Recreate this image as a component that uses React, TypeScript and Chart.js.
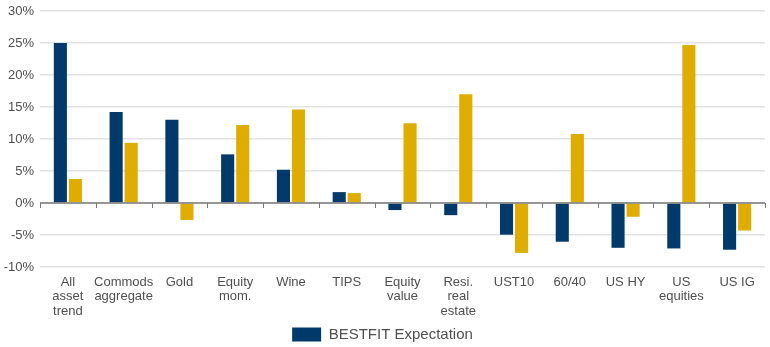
import React, { useEffect, useRef } from "react";
import { Chart, registerables } from "chart.js";

Chart.register(...registerables);

const categories: string[][] = [
  ["All", "asset", "trend"],
  ["Commods", "aggregate"],
  ["Gold"],
  ["Equity", "mom."],
  ["Wine"],
  ["TIPS"],
  ["Equity", "value"],
  ["Resi.", "real", "estate"],
  ["UST10"],
  ["60/40"],
  ["US HY"],
  ["US", "equities"],
  ["US IG"],
];

const bestfitExpectation = [25.0, 14.2, 13.0, 7.6, 5.2, 1.7, -1.1, -1.9, -4.95, -6.05, -7.0, -7.1, -7.3];
const secondSeries = [3.75, 9.4, -2.65, 12.2, 14.6, 1.55, 12.45, 17.0, -7.8, 10.8, -2.15, 24.7, -4.3];

const yMin = -10;
const yMax = 30;
const yStep = 5;

const NAVY = "#003A6A";
const GOLD = "#DFAC00";
const TEXT = "#505050";
const FONT = "'Liberation Sans', Arial, Helvetica, sans-serif";

const zeroLinePlugin = {
  id: "zeroLine",
  afterDatasetsDraw(chart: any) {
    const { ctx, scales, chartArea } = chart;
    const x = scales.x;
    const y = scales.y;
    const y0 = y.getPixelForValue(0);
    ctx.save();
    ctx.strokeStyle = "#7a7a7a";
    ctx.lineWidth = 1.5;
    ctx.beginPath();
    ctx.moveTo(chartArea.left, y0);
    ctx.lineTo(chartArea.right, y0);
    ctx.stroke();
    ctx.lineWidth = 1;
    const n = categories.length;
    const half = (x.getPixelForValue(1) - x.getPixelForValue(0)) / 2;
    for (let i = 0; i <= n; i++) {
      const px = i < n ? x.getPixelForValue(i) - half : chartArea.right;
      const xx = Math.round(px) + 0.5;
      ctx.beginPath();
      ctx.moveTo(xx, y0);
      ctx.lineTo(xx, y0 + 5);
      ctx.stroke();
    }
    ctx.restore();
  },
};

export default function App() {
  const ref = useRef<HTMLCanvasElement | null>(null);

  useEffect(() => {
    document.body.style.margin = "0";
    const canvas = ref.current;
    if (!canvas) return;
    const chart: any = new Chart(canvas, {
      type: "bar",
      data: {
        labels: categories,
        datasets: [
          {
            label: "BESTFIT Expectation",
            data: bestfitExpectation,
            backgroundColor: NAVY,
            borderWidth: 0,
            barPercentage: 0.87,
            categoryPercentage: 0.54,
          },
          {
            label: "Series 2",
            data: secondSeries,
            backgroundColor: GOLD,
            borderWidth: 0,
            barPercentage: 0.87,
            categoryPercentage: 0.54,
          },
        ],
      },
      options: {
        animation: false,
        responsive: false,
        maintainAspectRatio: false,
        layout: { padding: { top: 11, right: 5, left: 0, bottom: -5 } },
        plugins: {
          legend: {
            position: "bottom",
            labels: {
              filter: (item: any) => item.datasetIndex === 0,
              boxWidth: 29,
              boxHeight: 14,
              padding: 1,
              color: TEXT,
              font: { family: FONT, size: 15 },
            },
          },
          tooltip: { enabled: false },
        },
        scales: {
          x: {
            grid: { display: false, drawTicks: false },
            border: { display: false },
            ticks: {
              color: TEXT,
              font: { family: FONT, size: 13, lineHeight: 1.12 },
              padding: 8,
              maxRotation: 0,
              autoSkip: false,
            },
            afterFit: (scale: any) => {
              scale.height = 59;
            },
          },
          y: {
            min: yMin,
            max: yMax,
            grid: { color: "#e3e3e3", lineWidth: 1.5, drawTicks: false },
            border: { display: false },
            ticks: {
              stepSize: yStep,
              color: TEXT,
              font: { family: FONT, size: 13 },
              padding: 6,
              callback: (v: any) => `${v}%`,
            },
            afterFit: (scale: any) => {
              scale.width = 40;
              scale.paddingTop = 0;
              scale.paddingBottom = 0;
            },
          },
        },
      },
      plugins: [zeroLinePlugin],
    } as any);
    return () => chart.destroy();
  }, []);

  return (
    <div style={{ width: 770, height: 347, position: "relative" }}>
      <canvas ref={ref} width={770} height={347} style={{ width: 770, height: 347, display: "block" }} />
    </div>
  );
}
